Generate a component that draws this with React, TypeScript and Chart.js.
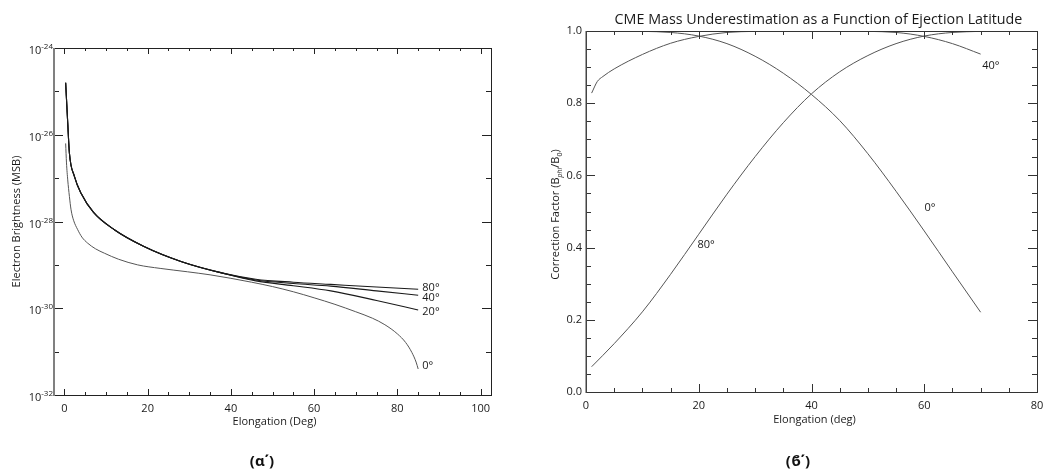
import React, { useEffect, useRef } from "react";
import { Chart, registerables } from "chart.js";

Chart.register(...registerables);

const FONT = "'Open Sans', 'DejaVu Sans', sans-serif";

// ---------- (α΄) Electron brightness vs elongation ----------
const elongHigh = [0.3, 0.8, 1.2, 2.4, 4, 7, 12, 19, 28, 38, 46, 55, 64, 75, 85];
const bright80 = [1.58e-25, 1.86e-26, 3.8e-27, 1.1e-27, 4.47e-28, 1.62e-28, 6.46e-29, 2.69e-29, 1.2e-29, 6.46e-30, 4.68e-30, 3.98e-30, 3.55e-30, 3.09e-30, 2.75e-30];
const bright40 = [1.58e-25, 1.86e-26, 3.8e-27, 1.1e-27, 4.47e-28, 1.62e-28, 6.46e-29, 2.69e-29, 1.2e-29, 6.46e-30, 4.47e-30, 3.72e-30, 3.24e-30, 2.51e-30, 2.0e-30];
const bright20 = [1.58e-25, 1.86e-26, 3.8e-27, 1.1e-27, 4.47e-28, 1.62e-28, 6.46e-29, 2.69e-29, 1.2e-29, 6.46e-30, 4.27e-30, 3.31e-30, 2.51e-30, 1.51e-30, 9.12e-31];
const elongLow = [0.3, 0.5, 0.8, 1.2, 1.6, 2.2, 3.2, 4.2, 5.6, 7.5, 9.6, 13, 17.6, 23, 29.6, 35, 40, 45, 50, 55, 60, 65, 70, 74, 77, 80, 82, 83.5, 84.5, 85];
const bright0 = [6.31e-27, 2.24e-27, 9.12e-28, 3.8e-28, 1.86e-28, 1.07e-28, 6.46e-29, 4.37e-29, 3.16e-29, 2.34e-29, 1.86e-29, 1.35e-29, 1.0e-29, 8.3e-30, 6.92e-30, 5.9e-30, 4.9e-30, 3.98e-30, 3.16e-30, 2.4e-30, 1.74e-30, 1.23e-30, 8.3e-31, 5.9e-31, 4.17e-31, 2.57e-31, 1.62e-31, 9.5e-32, 5.75e-32, 3.98e-32];

const leftXTicks = [0, 20, 40, 60, 80, 100];
const leftYTicks = [1e-32, 1e-30, 1e-28, 1e-26, 1e-24];
const leftYMinor = [1e-31, 1e-29, 1e-27, 1e-25];
const leftSeriesLabels = ["80°", "40°", "20°", "0°"];
const leftLabelX = [86, 86, 86, 86];
const leftLabelY = [2.9e-30, 1.7e-30, 8.3e-31, 4.7e-32];

// ---------- (ϐ΄) CME mass underestimation ----------
const elong40 = [1, 2, 3, 5, 10, 15, 20, 25, 30, 35, 40, 45, 50, 55, 60, 65, 70];
const corr40 = [0.828, 0.86, 0.874, 0.895, 0.935, 0.966, 0.985, 0.996, 0.999, 1.0, 1.0, 1.0, 0.999, 0.996, 0.985, 0.965, 0.936];
const elongBC = [1, 5, 10, 15, 20, 25, 30, 35, 40, 45, 50, 55, 60, 65, 70];
const corr80 = [0.07, 0.134, 0.222, 0.326, 0.437, 0.548, 0.652, 0.746, 0.826, 0.887, 0.932, 0.965, 0.986, 0.996, 0.999];
const corr0 = [1.0, 1.0, 0.999, 0.996, 0.986, 0.965, 0.93, 0.883, 0.824, 0.752, 0.66, 0.556, 0.446, 0.333, 0.221];

const rightXTicks = [0, 20, 40, 60, 80];
const rightYTicks = [0, 0.2, 0.4, 0.6, 0.8, 1.0];
const rightSeriesLabels = ["40°", "0°", "80°"];
const rightLabelX = [71.8, 61.0, 21.3];
const rightLabelY = [0.903, 0.51, 0.407];

const rightTitle = "CME Mass Underestimation as a Function of Ejection Latitude";

function range(a: number, b: number, step: number) {
  const out: number[] = [];
  for (let v = a; v <= b + 1e-9; v += step) out.push(Math.round(v * 1000) / 1000);
  return out;
}

type FrameOpts = {
  xMajor: number[]; xMinor: number[]; yMajor: number[]; yMinor: number[];
  xMajorLen: number; xMinorLen: number; yMajorLen: number; yMinorLen: number;
  color: string; leftColor: string; leftWidth: number;
};

function drawFrame(chart: any, o: FrameOpts) {
  const ctx: CanvasRenderingContext2D = chart.ctx;
  const a = chart.chartArea;
  const xs = chart.scales.x, ys = chart.scales.y;
  const L = Math.round(a.left), R = Math.round(a.right), T = Math.round(a.top), B = Math.round(a.bottom);
  ctx.save();
  ctx.lineWidth = 1;
  ctx.strokeStyle = o.color;
  const seg = (x1: number, y1: number, x2: number, y2: number) => {
    ctx.beginPath(); ctx.moveTo(x1, y1); ctx.lineTo(x2, y2); ctx.stroke();
  };
  const xt = (vals: number[], len: number) => vals.forEach((v) => {
    const p = Math.round(xs.getPixelForValue(v)) + 0.5;
    seg(p, B, p, B - len); seg(p, T, p, T + len);
  });
  const yt = (vals: number[], len: number) => vals.forEach((v) => {
    const p = Math.round(ys.getPixelForValue(v)) + 0.5;
    seg(L, p, L + len, p); seg(R, p, R - len, p);
  });
  xt(o.xMajor, o.xMajorLen); xt(o.xMinor, o.xMinorLen);
  yt(o.yMajor, o.yMajorLen); yt(o.yMinor, o.yMinorLen);
  seg(L, B + 0.5, R + 1, B + 0.5);
  seg(L, T + 0.5, R + 1, T + 0.5);
  seg(R + 0.5, T, R + 0.5, B + 1);
  ctx.strokeStyle = o.leftColor; ctx.lineWidth = o.leftWidth;
  seg(L + 0.5 - (o.leftWidth - 1) / 2, T, L + 0.5 - (o.leftWidth - 1) / 2, B + 1);
  ctx.restore();
}

function leftConfig(): any {
  const pts = (xs: number[], ys: number[]) => xs.map((x, i) => ({ x, y: ys[i] }));
  const plugin = {
    id: "leftFrame",
    afterDatasetsDraw(chart: any) {
      drawFrame(chart, {
        xMajor: leftXTicks, xMinor: range(0, 100, 5).filter((v) => v % 20 !== 0),
        yMajor: leftYTicks, yMinor: leftYMinor,
        xMajorLen: 6, xMinorLen: 3, yMajorLen: 9, yMinorLen: 5,
        color: "#222", leftColor: "#808080", leftWidth: 2,
      });
      const ctx: CanvasRenderingContext2D = chart.ctx;
      const a = chart.chartArea; const xs = chart.scales.x, ys = chart.scales.y;
      ctx.save();
      ctx.fillStyle = "#1a1a1a";
      ctx.font = `11px ${FONT}`; ctx.textAlign = "center"; ctx.textBaseline = "middle";
      leftXTicks.forEach((v) => ctx.fillText(String(v), xs.getPixelForValue(v), a.bottom + 13.5));
      leftYTicks.forEach((v) => {
        const e = Math.round(Math.log10(v));
        const y = ys.getPixelForValue(v);
        ctx.textAlign = "left"; ctx.textBaseline = "alphabetic";
        ctx.font = `8px ${FONT}`;
        const sup = String(e);
        const sw = ctx.measureText(sup).width;
        ctx.font = `11px ${FONT}`;
        const bw = ctx.measureText("10").width;
        const sx = a.left - 1 - sw;
        ctx.fillText("10", sx - bw, y + 6);
        ctx.font = `8px ${FONT}`;
        ctx.fillText(sup, sx, y + 1);
      });
      ctx.font = `11px ${FONT}`; ctx.textAlign = "center"; ctx.textBaseline = "middle";
      ctx.fillText("Elongation (Deg)", (a.left + a.right) / 2 + 2, a.bottom + 27);
      ctx.save();
      ctx.translate(17, (a.top + a.bottom) / 2);
      ctx.rotate(-Math.PI / 2);
      ctx.fillText("Electron Brightness (MSB)", 0, 0);
      ctx.restore();
      ctx.textAlign = "left";
      leftSeriesLabels.forEach((t, i) => ctx.fillText(t, xs.getPixelForValue(leftLabelX[i]), ys.getPixelForValue(leftLabelY[i])));
      ctx.restore();
    },
  };
  return {
    type: "line",
    data: {
      datasets: [
        { label: "80°", data: pts(elongHigh, bright80), borderColor: "#1a1a1a", borderWidth: 1.1 },
        { label: "40°", data: pts(elongHigh, bright40), borderColor: "#1a1a1a", borderWidth: 1.1 },
        { label: "20°", data: pts(elongHigh, bright20), borderColor: "#1a1a1a", borderWidth: 1.1 },
        { label: "0°", data: pts(elongLow, bright0), borderColor: "#555", borderWidth: 1 },
      ],
    },
    options: {
      animation: false, responsive: false, devicePixelRatio: 1,
      layout: { padding: { left: 54, right: 29, top: 48, bottom: 74 } },
      plugins: { legend: { display: false }, tooltip: { enabled: false } },
      elements: { point: { radius: 0 }, line: { cubicInterpolationMode: "monotone", fill: false } },
      scales: {
        x: { type: "linear", min: -2.5, max: 102.5, display: false },
        y: { type: "logarithmic", min: 1e-32, max: 1e-24, display: false },
      },
    },
    plugins: [plugin],
  };
}

function rightConfig(): any {
  const pts = (xs: number[], ys: number[]) => xs.map((x, i) => ({ x, y: ys[i] }));
  const plugin = {
    id: "rightFrame",
    afterDatasetsDraw(chart: any) {
      drawFrame(chart, {
        xMajor: rightXTicks, xMinor: range(0, 80, 5).filter((v) => v % 20 !== 0),
        yMajor: rightYTicks, yMinor: range(0, 1, 0.05).filter((v) => Math.abs(v * 5 - Math.round(v * 5)) > 1e-6),
        xMajorLen: 8, xMinorLen: 4, yMajorLen: 9, yMinorLen: 5,
        color: "#333", leftColor: "#444", leftWidth: 1.5,
      });
      const ctx: CanvasRenderingContext2D = chart.ctx;
      const a = chart.chartArea; const xs = chart.scales.x, ys = chart.scales.y;
      ctx.save();
      ctx.fillStyle = "#1a1a1a";
      ctx.font = `11px ${FONT}`; ctx.textBaseline = "middle";
      ctx.textAlign = "center";
      rightXTicks.forEach((v) => ctx.fillText(String(v), xs.getPixelForValue(v), a.bottom + 14));
      ctx.textAlign = "right";
      rightYTicks.forEach((v) => ctx.fillText(v.toFixed(1), a.left - 4, ys.getPixelForValue(v)));
      ctx.textAlign = "center";
      ctx.fillText("Elongation (deg)", (a.left + a.right) / 2 + 3, a.bottom + 28);
      ctx.font = `14.3px ${FONT}`;
      ctx.fillText(rightTitle, (a.left + a.right) / 2 + 7, 20);
      const parts = [
        { t: "Correction Factor (B", f: `11px ${FONT}`, dy: 0 },
        { t: "phi", f: `italic 7px ${FONT}`, dy: 3 },
        { t: "/B", f: `11px ${FONT}`, dy: 0 },
        { t: "0", f: `7px ${FONT}`, dy: 3 },
        { t: ")", f: `11px ${FONT}`, dy: 0 },
      ];
      let total = 0;
      parts.forEach((p) => { ctx.font = p.f; total += ctx.measureText(p.t).width; });
      ctx.save();
      ctx.translate(35, (a.top + a.bottom) / 2 + 3);
      ctx.rotate(-Math.PI / 2);
      ctx.textAlign = "left"; ctx.textBaseline = "alphabetic";
      let x = -total / 2;
      parts.forEach((p) => { ctx.font = p.f; ctx.fillText(p.t, x, 4 + p.dy); x += ctx.measureText(p.t).width; });
      ctx.restore();
      ctx.font = `11px ${FONT}`; ctx.textAlign = "center"; ctx.textBaseline = "middle";
      rightSeriesLabels.forEach((t, i) => ctx.fillText(t, xs.getPixelForValue(rightLabelX[i]), ys.getPixelForValue(rightLabelY[i])));
      ctx.restore();
    },
  };
  return {
    type: "line",
    data: {
      datasets: [
        { label: "40°", data: pts(elong40, corr40), borderColor: "#555", borderWidth: 1 },
        { label: "80°", data: pts(elongBC, corr80), borderColor: "#555", borderWidth: 1 },
        { label: "0°", data: pts(elongBC, corr0), borderColor: "#555", borderWidth: 1 },
      ],
    },
    options: {
      animation: false, responsive: false, devicePixelRatio: 1,
      layout: { padding: { left: 66, right: 8, top: 31, bottom: 77 } },
      plugins: { legend: { display: false }, tooltip: { enabled: false } },
      elements: { point: { radius: 0 }, line: { cubicInterpolationMode: "monotone", fill: false } },
      scales: {
        x: { type: "linear", min: 0, max: 80, display: false },
        y: { type: "linear", min: 0, max: 1, display: false },
      },
    },
    plugins: [plugin],
  };
}

const captionStyle = (cx: number): React.CSSProperties => ({
  position: "absolute", left: cx - 40, width: 80, top: 451, textAlign: "center",
  font: "bold 15px 'Noto Sans', 'DejaVu Sans', sans-serif", lineHeight: "18px", color: "#111",
});

export default function App() {
  const leftRef = useRef<HTMLCanvasElement>(null);
  const rightRef = useRef<HTMLCanvasElement>(null);
  useEffect(() => {
    const c1 = new Chart(leftRef.current as HTMLCanvasElement, leftConfig());
    const c2 = new Chart(rightRef.current as HTMLCanvasElement, rightConfig());
    return () => { c1.destroy(); c2.destroy(); };
  }, []);
  return (
    <div style={{ position: "absolute", left: 0, top: 0, width: 1045, height: 469, background: "#fff", overflow: "hidden" }}>
      <canvas ref={leftRef} width={520} height={469} style={{ position: "absolute", left: 0, top: 0, width: 520, height: 469 }} />
      <canvas ref={rightRef} width={525} height={469} style={{ position: "absolute", left: 520, top: 0, width: 525, height: 469 }} />
      <div style={captionStyle(262)}>(α΄)</div>
      <div style={captionStyle(798)}>(ϐ΄)</div>
    </div>
  );
}
